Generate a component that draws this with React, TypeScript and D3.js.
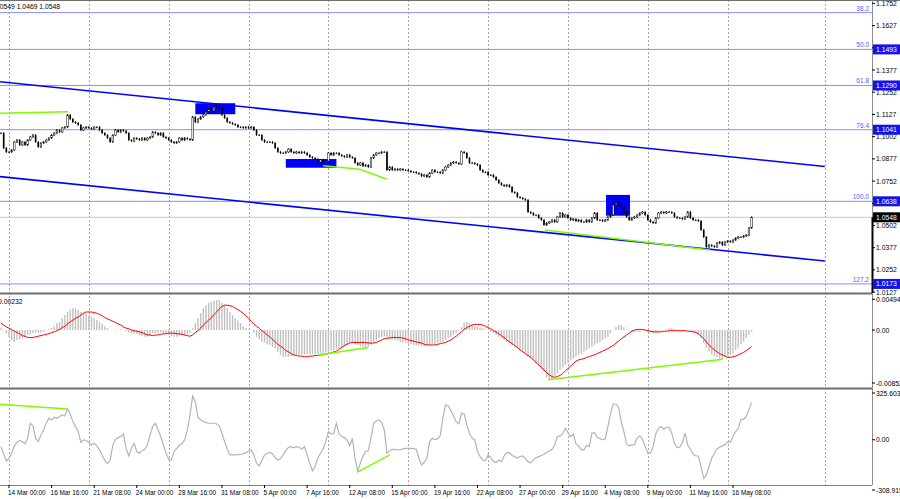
import React from "react";
import * as d3 from "d3";

// H4 bars, index 0 = 14 Mar 00:00
const firstBar = -3;

const closes = [
  1.1022, 1.0938, 1.0916, 1.0916, 1.0927, 1.0972, 1.0983, 1.0955, 1.0972, 1.0955,
  1.0983, 1.1, 1.1011, 1.0972, 1.0944, 1.0966, 1.0972, 1.0983, 1.0994, 1.1011,
  1.1022, 1.1039, 1.1028, 1.1051, 1.1056, 1.1124, 1.1101, 1.1084, 1.1079, 1.1068,
  1.1039, 1.1051, 1.1056, 1.1051, 1.1045, 1.1056, 1.1056, 1.1039, 1.1022, 1.1011,
  1.0994, 1.0972, 1.1011, 1.1039, 1.1028, 1.1039, 1.1034, 1.1022, 1.0983, 1.0977,
  1.0994, 1.0989, 1.0983, 1.0994, 1.0983, 1.0994, 1.1, 1.1028, 1.1022, 1.1011,
  1.1022, 1.1, 1.0994, 1.0983, 1.0972, 1.0966, 1.0972, 1.0994, 1.0983, 1.0994,
  1.0989, 1.0983, 1.1113, 1.1084, 1.1101, 1.1113, 1.1124, 1.1141, 1.1158, 1.1146,
  1.1169, 1.1174, 1.1163, 1.1124, 1.1107, 1.1084, 1.1079, 1.1073, 1.1068, 1.1056,
  1.1056, 1.1051, 1.1056, 1.1051, 1.1056, 1.1039, 1.1011, 1.1011, 1.0983, 1.0972,
  1.0972, 1.0972, 1.0966, 1.0938, 1.0916, 1.091, 1.091, 1.0916, 1.0932, 1.0916,
  1.091, 1.0916, 1.091, 1.0916, 1.091, 1.0899, 1.0887, 1.0882, 1.0876, 1.0859,
  1.0871, 1.0859, 1.0865, 1.091, 1.0899, 1.091, 1.091, 1.0899, 1.0893, 1.0887,
  1.0899, 1.0887, 1.0882, 1.0854, 1.0842, 1.0854, 1.0837, 1.0842, 1.0831, 1.0882,
  1.0899, 1.091, 1.091, 1.0916, 1.0916, 1.0814, 1.0831, 1.0814, 1.082, 1.0814,
  1.082, 1.0814, 1.0814, 1.0809, 1.0803, 1.0803, 1.0797, 1.0792, 1.078, 1.0786,
  1.0775, 1.0797, 1.0814, 1.0803, 1.0803, 1.0797, 1.0814, 1.0831, 1.0842, 1.0854,
  1.0859, 1.0854, 1.0848, 1.0916, 1.091, 1.0882, 1.0854, 1.0854, 1.0848, 1.0842,
  1.0814, 1.0803, 1.0803, 1.0786, 1.0786, 1.0775, 1.0758, 1.0741, 1.073, 1.0724,
  1.073, 1.0719, 1.069, 1.0685, 1.0662, 1.0657, 1.0651, 1.0645, 1.0578, 1.0572,
  1.0561, 1.0561, 1.0544, 1.0533, 1.0505, 1.0516, 1.0522, 1.0533, 1.0522, 1.055,
  1.0572, 1.055, 1.0561, 1.0544, 1.0533, 1.0538, 1.0527, 1.0533, 1.0522, 1.0522,
  1.0533, 1.0522, 1.0544, 1.0572, 1.0533, 1.0533, 1.0527, 1.0533, 1.055, 1.0561,
  1.0617, 1.0628, 1.0617, 1.0606, 1.0578, 1.055, 1.0533, 1.0544, 1.055, 1.0561,
  1.0572, 1.0578, 1.0561, 1.0533, 1.0522, 1.0516, 1.0544, 1.0572, 1.0578, 1.0572,
  1.0578, 1.0578, 1.0572, 1.055, 1.0544, 1.0544, 1.0538, 1.055, 1.0578, 1.0544,
  1.0533, 1.0533, 1.0527, 1.0477, 1.0437, 1.0381, 1.0392, 1.0386, 1.0381, 1.0403,
  1.0409, 1.0392, 1.0409, 1.0415, 1.0409, 1.042, 1.0431, 1.0437, 1.0437, 1.0443,
  1.0448, 1.0488, 1.0548,
];

const macdHist = [
  0.0004, 0.0001, -0.0005, -0.0011, -0.0016, -0.0019, -0.0016, -0.0015, -0.0013, -0.0011,
  -0.0008, -0.0007, -0.0005, -0.0004, -0.0004, -0.0004, -0.0003, -0.0001, 0.0001, 0.0003,
  0.0006, 0.0011, 0.0013, 0.0019, 0.0024, 0.0029, 0.0033, 0.0035, 0.0035, 0.0032,
  0.0029, 0.0027, 0.0026, 0.0024, 0.0021, 0.0019, 0.0016, 0.0013, 0.001, 0.0006,
  0.0003, 0, 0, 0.0001, 0.0001, 0.0001, 0, -0.0002, -0.0004, -0.0005,
  -0.0005, -0.0006, -0.0008, -0.001, -0.0011, -0.001, -0.0009, -0.0005, -0.0005, -0.0005,
  -0.0004, -0.0005, -0.0006, -0.0008, -0.001, -0.0011, -0.0011, -0.001, -0.0008, -0.0008,
  -0.0007, -0.0005, 0.0003, 0.0011, 0.0019, 0.0027, 0.0035, 0.004, 0.0044, 0.0046,
  0.0047, 0.0048, 0.0048, 0.0044, 0.004, 0.0035, 0.0029, 0.0024, 0.0019, 0.0015,
  0.0011, 0.0006, 0.0003, 0.0001, 0, -0.0004, -0.0011, -0.0015, -0.0019, -0.002,
  -0.0023, -0.0024, -0.0027, -0.0029, -0.0035, -0.004, -0.0043, -0.0043, -0.0043, -0.0042,
  -0.0041, -0.0041, -0.004, -0.004, -0.0039, -0.0039, -0.0039, -0.0039, -0.0039, -0.0039,
  -0.0038, -0.0038, -0.0036, -0.0035, -0.0033, -0.0032, -0.0031, -0.003, -0.0029, -0.0027,
  -0.0024, -0.0021, -0.0021, -0.0023, -0.0024, -0.0026, -0.0027, -0.0027, -0.0027, -0.0024,
  -0.002, -0.0016, -0.0013, -0.0011, -0.001, -0.0011, -0.0013, -0.0015, -0.0016, -0.0017,
  -0.0019, -0.002, -0.0021, -0.0023, -0.0023, -0.0024, -0.0025, -0.0025, -0.0026, -0.0026,
  -0.0025, -0.0024, -0.0023, -0.0023, -0.0021, -0.002, -0.0019, -0.0016, -0.0013, -0.0011,
  -0.0008, -0.0004, -0.0001, 0.0005, 0.0012, 0.0013, 0.0011, 0.0008, 0.0006, 0.0005,
  0.0004, 0.0003, 0.0001, 0, -0.0003, -0.0005, -0.0008, -0.0011, -0.0013, -0.0016,
  -0.0019, -0.0021, -0.0024, -0.0027, -0.0029, -0.0032, -0.0035, -0.0038, -0.0042, -0.0046,
  -0.0049, -0.0054, -0.0058, -0.0062, -0.0067, -0.0076, -0.0079, -0.0078, -0.0074, -0.007,
  -0.0064, -0.006, -0.0056, -0.0053, -0.0049, -0.0046, -0.0043, -0.004, -0.0038, -0.0035,
  -0.0032, -0.0029, -0.0027, -0.0024, -0.0021, -0.0019, -0.0016, -0.0013, -0.0011, -0.0005,
  0, 0.0005, 0.0008, 0.0008, 0.0005, 0.0001, -0.0001, -0.0003, -0.0003, -0.0003,
  -0.0003, -0.0001, -0.0001, -0.0003, -0.0004, -0.0005, -0.0004, -0.0003, -0.0001, 0,
  0.0001, 0.0003, 0.0003, 0.0001, 0, -0.0001, -0.0001, 0, 0, -0.0001,
  -0.0003, -0.0005, -0.0008, -0.0013, -0.0021, -0.0029, -0.0035, -0.0039, -0.0042, -0.0044,
  -0.0046, -0.0046, -0.0043, -0.0042, -0.004, -0.0038, -0.0032, -0.0028, -0.0023, -0.0019,
  -0.0013, -0.0008, -0.0003,
];

const macdSignal = [
  0.0011, 0.0008, 0.0005, 0.0003, 0.0001, -0.0002, -0.0004, -0.0006, -0.0009, -0.001,
  -0.0012, -0.0012, -0.0012, -0.0011, -0.001, -0.0009, -0.0008, -0.0007, -0.0006, -0.0004,
  -0.0003, -0.0001, 0.0001, 0.0004, 0.0006, 0.001, 0.0013, 0.0016, 0.0019, 0.0021,
  0.0024, 0.0027, 0.0029, 0.0029, 0.0029, 0.0028, 0.0027, 0.0025, 0.0023, 0.002,
  0.0018, 0.0016, 0.0014, 0.0012, 0.001, 0.0008, 0.0005, 0.0003, 0.0002, 0,
  -0.0001, -0.0002, -0.0003, -0.0004, -0.0006, -0.0008, -0.0008, -0.0009, -0.0008, -0.0008,
  -0.0007, -0.0006, -0.0006, -0.0005, -0.0005, -0.0005, -0.0006, -0.0006, -0.0007, -0.0008,
  -0.0009, -0.001, -0.0008, -0.0004, -0.0001, 0.0003, 0.0008, 0.0012, 0.0016, 0.002,
  0.0025, 0.0029, 0.0034, 0.0038, 0.004, 0.004, 0.0039, 0.0038, 0.0035, 0.0033,
  0.003, 0.0027, 0.0023, 0.0019, 0.0014, 0.001, 0.0006, 0.0003, -0.0001, -0.0004,
  -0.0008, -0.0011, -0.0015, -0.0019, -0.0023, -0.0026, -0.0029, -0.0033, -0.0035, -0.0038,
  -0.004, -0.0041, -0.0042, -0.0042, -0.0043, -0.0043, -0.0042, -0.0042, -0.0041, -0.0041,
  -0.004, -0.004, -0.0039, -0.0038, -0.0037, -0.0035, -0.0034, -0.0031, -0.0028, -0.0025,
  -0.0023, -0.0021, -0.002, -0.002, -0.002, -0.002, -0.002, -0.002, -0.0021, -0.0021,
  -0.0021, -0.002, -0.0018, -0.0016, -0.0014, -0.0013, -0.0013, -0.0012, -0.0012, -0.0012,
  -0.0012, -0.0013, -0.0014, -0.0016, -0.0017, -0.0018, -0.0019, -0.002, -0.0021, -0.0023,
  -0.0024, -0.0024, -0.0024, -0.0024, -0.0023, -0.0022, -0.0021, -0.002, -0.0018, -0.0016,
  -0.0013, -0.001, -0.0006, -0.0003, 0.0001, 0.0004, 0.0006, 0.0008, 0.0009, 0.0009,
  0.0009, 0.0008, 0.0006, 0.0004, 0.0002, -0.0001, -0.0003, -0.0006, -0.0009, -0.0012,
  -0.0016, -0.0019, -0.0022, -0.0025, -0.0028, -0.0032, -0.0035, -0.0038, -0.0041, -0.0044,
  -0.0048, -0.0052, -0.0056, -0.006, -0.0064, -0.0069, -0.0072, -0.0075, -0.0076, -0.0075,
  -0.0073, -0.007, -0.0066, -0.0062, -0.0058, -0.0054, -0.005, -0.0048, -0.0047, -0.0046,
  -0.0044, -0.0043, -0.0041, -0.004, -0.0038, -0.0036, -0.0034, -0.0032, -0.003, -0.0027,
  -0.0025, -0.0021, -0.0018, -0.0014, -0.0011, -0.0008, -0.0005, -0.0002, 0, 0.0001,
  0.0001, 0.0001, 0, -0.0001, -0.0002, -0.0003, -0.0003, -0.0003, -0.0003, -0.0002,
  -0.0002, -0.0001, -0.0001, -0.0001, -0.0001, -0.0001, -0.0001, -0.0001, -0.0002, -0.0002,
  -0.0003, -0.0004, -0.0006, -0.001, -0.0014, -0.0019, -0.0024, -0.0028, -0.0032, -0.0035,
  -0.0038, -0.004, -0.0042, -0.0044, -0.0044, -0.0043, -0.0042, -0.004, -0.0038, -0.0036,
  -0.0033, -0.003, -0.0027,
];

const cci = [
  -45, -93, -138, -121, -88, -40, -18, -5, -12, -27,
  10, 108, 91, 10, -12, 32, 64, 108, 141, 130,
  147, 141, 152, 162, 156, 202, 169, 119, 86, 54,
  -18, -1, -5, -18, -34, -23, -40, -66, -99, -136,
  -154, -136, -34, 3, 14, 21, 38, -56, -106, -56,
  -23, -77, -88, -71, -62, -34, 32, 86, 108, 64,
  21, -34, -88, -127, -132, -77, -56, -36, -27, -1,
  64, 162, 287, 250, 147, 130, 119, 112, 108, 108,
  108, 104, 91, 43, -12, -62, -99, -99, -99, -97,
  -95, -93, -84, -75, -66, -99, -154, -171, -136, -99,
  -88, -82, -93, -117, -132, -123, -99, -71, -49, -45,
  -53, -45, -49, -62, -45, -99, -154, -204, -175, -121,
  -88, -62, -12, 54, 38, 43, 108, 38, 21, 14,
  -1, -40, 10, -121, -208, -154, -106, -77, -71, 10,
  108, 123, 130, 112, 64, -88, -71, -62, -64, -66,
  -64, -60, -56, -56, -56, -58, -62, -121, -165, -147,
  -121, -12, 8, 3, 6, 25, 141, 228, 221, 191,
  156, 119, 104, 173, 169, 97, 43, 10, -1, -77,
  -110, -132, -138, -99, -117, -143, -149, -132, -143, -106,
  -84, -84, -103, -110, -119, -110, -106, -123, -143, -151,
  -132, -117, -110, -103, -95, -82, -73, -62, -34, 21,
  25, 38, 75, 47, 21, 38, -27, -40, -66, -66,
  -36, -45, 43, 47, 16, 8, -1, 6, 86, 173,
  234, 234, 213, 119, 54, -27, -40, -34, -34, 14,
  25, 3, -45, -88, -88, -45, 38, 75, 86, 69,
  82, 82, 43, -23, -51, -49, -18, 43, -34, -62,
  -93, -106, -106, -175, -252, -230, -175, -121, -88, -60,
  -49, -40, -32, -12, -18, 21, 54, 75, 134, 134,
  152, 200, 243,
];

const timeLabels = [
  "14 Mar 00:00", "16 Mar 16:00", "21 Mar 08:00", "24 Mar 00:00", "28 Mar 16:00",
  "31 Mar 08:00", "5 Apr 00:00", "7 Apr 16:00", "12 Apr 08:00", "15 Apr 00:00",
  "19 Apr 16:00", "22 Apr 08:00", "27 Apr 00:00", "29 Apr 16:00", "4 May 08:00",
  "9 May 00:00", "11 May 16:00", "16 May 08:00",
];
const barsPerLabel = 16;

// weekly separators (bar index), last one is the chart-shift line
const gridBars = [0, 30, 60, 90, 120, 150, 180, 210, 240, 270, 306.5];

const priceTicks = [
  1.1752, 1.1627, 1.1502, 1.1377, 1.1252, 1.1127, 1.1002, 1.0877, 1.0752, 1.0627,
  1.0502, 1.0377, 1.0252, 1.0127,
];

const fibLevels = [
  { label: "38.2", price: 1.17, boxed: false },
  { label: "50.0", price: 1.1493, boxed: true },
  { label: "61.8", price: 1.129, boxed: true },
  { label: "76.4", price: 1.1041, boxed: true },
  { label: "100.0", price: 1.0638, boxed: true },
  { label: "127.2", price: 1.0173, boxed: true },
];

const zones = [
  { from: 70, to: 85, top: 1.119, bottom: 1.1128 },
  { from: 104, to: 123, top: 1.0876, bottom: 1.0827 },
  { from: 224.3, to: 233.3, top: 1.0674, bottom: 1.0557 },
];

const channel = [
  [{ bar: -3.38, v: 1.1311 }, { bar: 306.5, v: 1.0834 }],
  [{ bar: -3.38, v: 1.0777 }, { bar: 306.5, v: 1.0302 }],
];

const priceDivergence = [
  [{ bar: -3.4, v: 1.1133 }, { bar: 22.2, v: 1.1142 }],
  [{ bar: 118, v: 1.0838 }, { bar: 131.9, v: 1.0818 }, { bar: 142, v: 1.0762 }],
  [{ bar: 201.4, v: 1.0477 }, { bar: 263.3, v: 1.0364 }],
];
const macdDivergence = [
  [{ bar: 116.2, v: -0.004 }, { bar: 135, v: -0.0028 }],
  [{ bar: 202.6, v: -0.008 }, { bar: 268.3, v: -0.0047 }],
];
const cciDivergence = [
  [{ bar: -3.4, v: 232 }, { bar: 22.05, v: 202 }],
  [{ bar: 131.2, v: -208 }, { bar: 143.1, v: -99 }],
];

const lastPrice = 1.0548;
const headerText = "1.0549 1.0469 1.0548";
const macdHeader = "0.00232";
const macdScale = [0.00494, 0, -0.00852];
const cciScale = [325.6039, 0, -308.9157];

const FONT = "'Liberation Sans', Arial, sans-serif";
const AXIS_X = 872;
const MAIN_BOTTOM = 293;
const MACD_BOTTOM = 388;
const CCI_BOTTOM = 485;

type Pt = { bar: number; v: number };

export default function App() {
  const x = d3.scaleLinear().domain([0, 272]).range([9, 733]);
  const yP = d3.scaleLinear().domain([1.0122, 1.1771]).range([MAIN_BOTTOM, 0]);
  const yM = d3.scaleLinear().domain([-0.00852, 0.00494]).range([383, 299.3]);
  const yC = d3.scaleLinear().domain([-308.9157, 325.6039]).range([487, 390]);

  const ptLine = (sy: d3.ScaleLinear<number, number>) =>
    d3
      .line<Pt>()
      .x((d) => x(d.bar))
      .y((d) => sy(d.v));

  const signalPath = d3
    .line<number>()
    .x((_, k) => x(firstBar + k))
    .y((v) => yM(v))(macdSignal);
  const cciPath = d3
    .line<number>()
    .x((_, k) => x(firstBar + k))
    .y((v) => yC(v))(cci);

  const wick = 0.0006;
  const candles = closes.map((c, k) => {
    const o = k === 0 ? c : closes[k - 1];
    return { i: firstBar + k, o, c, hi: Math.max(o, c) + wick, lo: Math.min(o, c) - wick };
  });

  const axisText = { fontFamily: FONT, fontSize: 6.8, fill: "#000" };

  return (
    <svg
      width={900}
      height={499}
      style={{ position: "absolute", left: 0, top: 0, background: "#fff" }}
    >
      <defs>
        <clipPath id="mainClip">
          <rect x={0} y={0} width={AXIS_X} height={MAIN_BOTTOM} />
        </clipPath>
        <clipPath id="macdClip">
          <rect x={0} y={295} width={AXIS_X} height={MACD_BOTTOM - 295} />
        </clipPath>
        <clipPath id="cciClip">
          <rect x={0} y={390} width={AXIS_X} height={CCI_BOTTOM - 390} />
        </clipPath>
      </defs>
      <rect x={0} y={0} width={900} height={499} fill="#fff" />

      {/* weekly grid */}
      {gridBars.map((b) => (
        <line
          key={`g${b}`}
          x1={Math.round(x(b)) + 0.5}
          x2={Math.round(x(b)) + 0.5}
          y1={0}
          y2={CCI_BOTTOM}
          stroke="#a8a8a8"
          strokeWidth={1}
          strokeDasharray="2,2"
        />
      ))}

      {/* main panel */}
      <g clipPath="url(#mainClip)">
        {fibLevels.map((f) => (
          <line
            key={`f${f.label}`}
            x1={0}
            x2={AXIS_X}
            y1={yP(f.price)}
            y2={yP(f.price)}
            stroke="#8c8cff"
            strokeWidth={1}
          />
        ))}
        <line
          x1={0}
          x2={AXIS_X}
          y1={yP(lastPrice)}
          y2={yP(lastPrice)}
          stroke="#c8c8c8"
          strokeWidth={1}
        />
        {zones.map((z, k) => (
          <rect
            key={`z${k}`}
            x={x(z.from)}
            y={yP(z.top)}
            width={x(z.to) - x(z.from)}
            height={yP(z.bottom) - yP(z.top)}
            fill="#0000f5"
          />
        ))}
        {channel.map((c, k) => (
          <path key={`c${k}`} d={ptLine(yP)(c) || ""} stroke="#0000ff" strokeWidth={1.6} fill="none" />
        ))}
        {priceDivergence.map((d, k) => (
          <path key={`pd${k}`} d={ptLine(yP)(d) || ""} stroke="#7cfc00" strokeWidth={1.5} fill="none" />
        ))}
        {candles.map((b) => {
          const cx = x(b.i);
          const top = yP(Math.max(b.o, b.c));
          const h = Math.max(0.7, yP(Math.min(b.o, b.c)) - top);
          const bull = b.c > b.o;
          return (
            <g key={`b${b.i}`}>
              <line x1={cx} x2={cx} y1={yP(b.hi)} y2={yP(b.lo)} stroke="#000" strokeWidth={0.8} />
              <rect
                x={cx - 0.8}
                y={top}
                width={1.6}
                height={h}
                fill={bull ? "#fff" : "#000"}
                stroke="#000"
                strokeWidth={bull ? 0.5 : 0}
              />
            </g>
          );
        })}
        {fibLevels.map((f) => (
          <text
            key={`fl${f.label}`}
            x={869}
            y={yP(f.price) - 2}
            textAnchor="end"
            fontFamily={FONT}
            fontSize={6.5}
            fill="#5a5aff"
          >
            {f.label}
          </text>
        ))}
        <text x={-6} y={9} fontFamily={FONT} fontSize={6.8} fill="#000">
          {headerText}
        </text>
      </g>

      {/* MACD panel */}
      <g clipPath="url(#macdClip)">
        {macdHist.map((v, k) => {
          const y0 = yM(0);
          const y1 = yM(v);
          return (
            <rect
              key={`h${k}`}
              x={x(firstBar + k) - 0.7}
              y={Math.min(y0, y1)}
              width={1.4}
              height={Math.abs(y1 - y0)}
              fill="#c0c0c0"
            />
          );
        })}
        <path d={signalPath || ""} stroke="#ff0000" strokeWidth={1} fill="none" />
        {macdDivergence.map((d, k) => (
          <path key={`md${k}`} d={ptLine(yM)(d) || ""} stroke="#7cfc00" strokeWidth={1.5} fill="none" />
        ))}
        <text x={-2} y={304} fontFamily={FONT} fontSize={6.8} fill="#000">
          {macdHeader}
        </text>
      </g>

      {/* CCI panel */}
      <g clipPath="url(#cciClip)">
        <path d={cciPath || ""} stroke="#b4b4b4" strokeWidth={1.2} fill="none" />
        {cciDivergence.map((d, k) => (
          <path key={`cd${k}`} d={ptLine(yC)(d) || ""} stroke="#7cfc00" strokeWidth={1.5} fill="none" />
        ))}
      </g>

      {/* frame and separators */}
      <line x1={0} x2={900} y1={0.5} y2={0.5} stroke="#6e6e6e" strokeWidth={1} />
      <line x1={0} x2={AXIS_X} y1={MAIN_BOTTOM + 0.5} y2={MAIN_BOTTOM + 0.5} stroke="#6e6e6e" strokeWidth={2} />
      <line x1={0} x2={AXIS_X} y1={MACD_BOTTOM + 0.5} y2={MACD_BOTTOM + 0.5} stroke="#6e6e6e" strokeWidth={2} />
      <line x1={0} x2={AXIS_X} y1={CCI_BOTTOM + 0.5} y2={CCI_BOTTOM + 0.5} stroke="#808080" strokeWidth={1} />
      <line x1={AXIS_X + 0.5} x2={AXIS_X + 0.5} y1={0} y2={CCI_BOTTOM} stroke="#8c8c8c" strokeWidth={1} />
      <line
        x1={AXIS_X + 0.5}
        x2={AXIS_X + 0.5}
        y1={yP(lastPrice)}
        y2={MAIN_BOTTOM}
        stroke="#000"
        strokeWidth={2}
      />

      {/* price axis */}
      {priceTicks.map((t) => (
        <g key={`pt${t}`}>
          <line x1={AXIS_X} x2={AXIS_X + 3} y1={yP(t)} y2={yP(t)} stroke="#000" />
          <text x={876} y={yP(t) + 2.5} {...axisText}>
            {t.toFixed(4)}
          </text>
        </g>
      ))}
      {fibLevels
        .filter((f) => f.boxed)
        .map((f) => (
          <g key={`fb${f.label}`}>
            <rect x={873} y={yP(f.price) - 5} width={28} height={10} fill="#1414e6" />
            <text x={876} y={yP(f.price) + 2.5} {...axisText} fill="#fff">
              {f.price.toFixed(4)}
            </text>
          </g>
        ))}
      <rect x={873} y={yP(lastPrice) - 5} width={28} height={10} fill="#000" />
      <text x={876} y={yP(lastPrice) + 2.5} {...axisText} fill="#fff">
        {lastPrice.toFixed(4)}
      </text>

      {/* MACD axis */}
      {macdScale.map((v, k) => (
        <g key={`ms${k}`}>
          <line x1={AXIS_X} x2={AXIS_X + 3} y1={yM(v)} y2={yM(v)} stroke="#000" />
          <text x={876} y={yM(v) + 2.5} {...axisText}>
            {v === 0 ? "0.00" : v.toFixed(5)}
          </text>
        </g>
      ))}

      {/* CCI axis */}
      {cciScale.map((v, k) => {
        const yy = yC(v) + (k === 1 ? 0 : 3);
        return (
          <g key={`cs${k}`}>
            <line x1={AXIS_X} x2={AXIS_X + 3} y1={yy} y2={yy} stroke="#000" />
            <text x={876} y={yy + 2.5} {...axisText}>
              {v === 0 ? "0.00" : v.toFixed(4)}
            </text>
          </g>
        );
      })}

      {/* time axis */}
      {timeLabels.map((lab, k) => {
        const tx = x(k * barsPerLabel);
        return (
          <g key={`t${k}`}>
            <line x1={tx} x2={tx} y1={CCI_BOTTOM} y2={CCI_BOTTOM + 3} stroke="#000" />
            <text x={tx - 1} y={495} fontFamily={FONT} fontSize={6.4} fill="#000">
              {lab}
            </text>
          </g>
        );
      })}
    </svg>
  );
}
